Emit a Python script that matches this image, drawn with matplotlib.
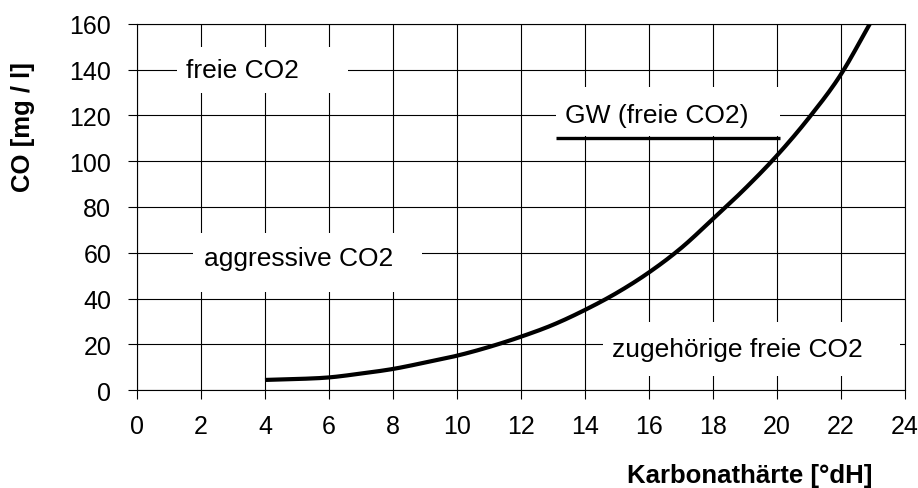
import matplotlib
matplotlib.use("Agg")
import numpy as np
import matplotlib.pyplot as plt
from matplotlib.patches import Rectangle

# Kurve: Karbonathärte [°dH] -> zugehörige freie CO2 [mg/l]
karbonathaerte = [4, 5, 6, 7, 8, 9, 10, 11, 12, 13, 14, 15, 16, 17, 18, 19, 20, 21, 22, 22.9]
co2_werte = [4.4, 4.8, 5.5, 7.2, 9.2, 12.0, 15.0, 18.8, 23.3, 28.5, 35.0, 42.5, 51.4, 62.0,
             74.8, 88.0, 102.5, 119.0, 138.0, 160.0]

# Grenzwert freie CO2
gw_x = [13.1, 20.1]
gw_y = [110, 110]

x_ticks = list(range(0, 25, 2))
y_ticks = list(range(0, 161, 20))

# Beschriftungen im Diagramm: (Text, x, y, Box x0, Box x1, Box y0, Box y1)
labels = [
    ("freie CO2", 3.3, 140, 1.25, 6.6, 130, 150),
    ("GW (freie CO2)", 16.25, 120, 13.1, 20.1, 111, 132.6),
    ("aggressive CO2", 5.05, 57.5, 1.75, 8.9, 42.8, 68.6),
    ("zugehörige freie CO2", 18.75, 18, 14.55, 23.85, 6, 29.7),
]


def glatt(x, y, n=400):
    # kubische Hermite-Kurve durch die Punkte (nur zum Zeichnen)
    x = np.asarray(x, float)
    y = np.asarray(y, float)
    m = np.gradient(y, x)
    xs = np.linspace(x[0], x[-1], n)
    idx = np.clip(np.searchsorted(x, xs) - 1, 0, len(x) - 2)
    h = x[idx + 1] - x[idx]
    t = (xs - x[idx]) / h
    h00 = 2 * t**3 - 3 * t**2 + 1
    h10 = t**3 - 2 * t**2 + t
    h01 = -2 * t**3 + 3 * t**2
    h11 = t**3 - t**2
    ys = h00 * y[idx] + h10 * h * m[idx] + h01 * y[idx + 1] + h11 * h * m[idx + 1]
    return xs, ys


plt.rcParams["font.family"] = ["Liberation Sans", "DejaVu Sans"]

fig = plt.figure(figsize=(9.18, 4.89), dpi=100)
ax = fig.add_axes([0.1492, 0.2004, 0.8366, 0.7485])

ax.set_xlim(0, 24)
ax.set_ylim(0, 160)
ax.set_xticks(x_ticks)
ax.set_yticks(y_ticks)
ax.grid(True, color="black", linewidth=0.8, zorder=0)
ax.set_axisbelow(True)
for spine in ax.spines.values():
    spine.set_linewidth(0.8)
ax.tick_params(axis="both", direction="out", length=6.5, width=0.8, labelsize=18)
ax.tick_params(axis="y", pad=12)
ax.tick_params(axis="x", pad=11)

for text, tx, ty, bx0, bx1, by0, by1 in labels:
    ax.add_patch(Rectangle((bx0, by0), bx1 - bx0, by1 - by0, facecolor="white",
                           edgecolor="none", zorder=2))
    ax.text(tx, ty, text, ha="center", va="center", fontsize=19, zorder=3)

ax.plot(gw_x, gw_y, color="black", linewidth=2.4, solid_capstyle="butt", zorder=4)

xs, ys = glatt(karbonathaerte, co2_werte)
ax.plot(xs, ys, color="black", linewidth=3, solid_capstyle="butt", zorder=5)

fig.text(750 / 918, 1 - 476 / 489, "Karbonathärte [°dH]", ha="center", va="center",
         fontsize=18.5, fontweight="bold")
fig.text(23 / 918, 1 - 127 / 489, "CO [mg / l]", ha="center", va="center",
         rotation=90, fontsize=18.5, fontweight="bold")

fig.savefig("out.png", dpi=100)
